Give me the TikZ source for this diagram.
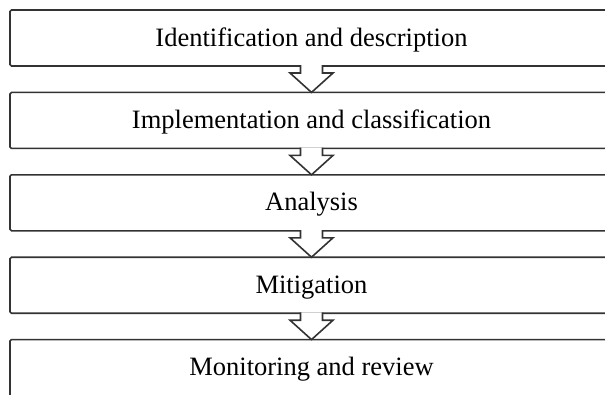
\documentclass[tikz,border=0pt]{standalone}
\usepackage{fontspec}
\setmainfont{Liberation Serif}
\definecolor{linegray}{HTML}{333333}
\tikzset{
  stage/.style={draw=linegray, line width=1.6pt, rounded corners=1.5pt,
    minimum width=603pt, minimum height=56pt, inner sep=0pt, outer sep=0pt,
    text height=18pt, text depth=2pt, anchor=north west,
    font=\fontsize{26.5}{30}\selectfont},
  lastbox/.style={minimum height=76pt, text depth=22pt},
  flowarrow/.style={draw=linegray, fill=white, line width=1.6pt, line join=miter}
}
\begin{document}
\begin{tikzpicture}[x=1pt,y=1pt]
\useasboundingbox (0,0) rectangle (605,-394);
\fill[white] (0,0) rectangle (605,-394);
\node[stage] (s1) at (10,-10)    {Identification and description};
\node[stage] (s2) at (10,-92.4)  {Implementation and classification};
\node[stage] (s3) at (10,-174.8) {Analysis};
\node[stage] (s4) at (10,-257.2) {Mitigation};
\node[stage, lastbox] (s5) at (10,-339.6) {Monitoring and review};
\foreach \a/\b in {s1/s2, s2/s3, s3/s4, s4/s5}{
  \filldraw[flowarrow]
    ([shift={(-11pt,0.8pt)}]\a.south) --
    ([shift={(-11pt,-7pt)}]\a.south) --
    ([shift={(-21.5pt,-7pt)}]\a.south) --
    (\b.north) --
    ([shift={(21.5pt,-7pt)}]\a.south) --
    ([shift={(11pt,-7pt)}]\a.south) --
    ([shift={(11pt,0.8pt)}]\a.south);
}
\end{tikzpicture}
\end{document}
